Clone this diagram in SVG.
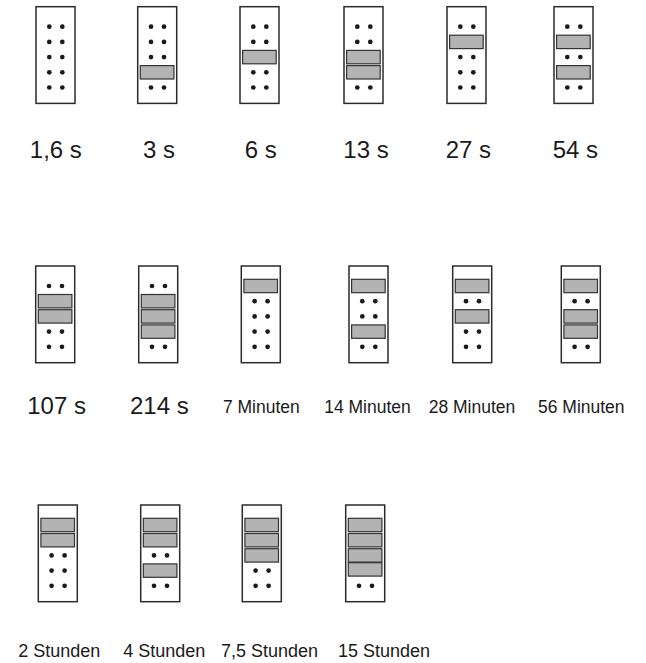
<svg xmlns="http://www.w3.org/2000/svg" width="646" height="663" viewBox="0 0 646 663">
<style>
.card{fill:#fff;stroke:#2b2b2b;stroke-width:1.5}
.bar{fill:#b3b3b3;stroke:#333;stroke-width:1.2}
.dot{fill:#1a1a1a}
.big{font-family:"Liberation Sans",Arial,sans-serif;font-size:24px;fill:#1a1a1a;text-anchor:middle}
.small{font-family:"Liberation Sans",Arial,sans-serif;font-size:17.5px;fill:#1a1a1a;text-anchor:middle}
.std{font-family:"Liberation Sans",Arial,sans-serif;font-size:18px;fill:#1a1a1a;text-anchor:middle}
</style>
<defs>
<g id="dp" class="dot"><circle cx="13.3" cy="0" r="2.35"/><circle cx="26.3" cy="0" r="2.35"/></g>
<rect id="bar" class="bar" x="2.6" y="-6.7" width="33.6" height="13.4"/>
<rect id="frame" class="card" x="0" y="0" width="39" height="96.7"/>
</defs>
<rect width="646" height="663" fill="#fff"/>
<g id="connectors"/>

<!-- Row 1 -->
<g id="card-1-6s" transform="translate(36,6.7)">
<use href="#frame"/><use href="#dp" y="20"/><use href="#dp" y="35.2"/><use href="#dp" y="50.4"/><use href="#dp" y="65.6"/><use href="#dp" y="80.8"/>
<text class="big" x="19.8" y="151">1,6 s</text>
</g>
<g id="card-3s" transform="translate(137.7,6.7)">
<use href="#frame"/><use href="#dp" y="20"/><use href="#dp" y="35.2"/><use href="#dp" y="50.4"/><use href="#bar" y="65.6"/><use href="#dp" y="80.8"/>
<text class="big" x="21.4" y="151">3 s</text>
</g>
<g id="card-6s" transform="translate(240,6.7)">
<use href="#frame"/><use href="#dp" y="20"/><use href="#dp" y="35.2"/><use href="#bar" y="50.4"/><use href="#dp" y="65.6"/><use href="#dp" y="80.8"/>
<text class="big" x="20.8" y="151">6 s</text>
</g>
<g id="card-13s" transform="translate(344,6.7)">
<use href="#frame"/><use href="#dp" y="20"/><use href="#dp" y="35.2"/><use href="#bar" y="50.4"/><use href="#bar" y="65.6"/><use href="#dp" y="80.8"/>
<text class="big" x="22" y="151">13 s</text>
</g>
<g id="card-27s" transform="translate(447,6.7)">
<use href="#frame"/><use href="#dp" y="20"/><use href="#bar" y="35.2"/><use href="#dp" y="50.4"/><use href="#dp" y="65.6"/><use href="#dp" y="80.8"/>
<text class="big" x="21.3" y="151">27 s</text>
</g>
<g id="card-54s" transform="translate(554,6.7)">
<use href="#frame"/><use href="#dp" y="20"/><use href="#bar" y="35.2"/><use href="#dp" y="50.4"/><use href="#bar" y="65.6"/><use href="#dp" y="80.8"/>
<text class="big" x="21.4" y="151">54 s</text>
</g>

<!-- Row 2 -->
<g id="card-107s" transform="translate(35.7,266)">
<use href="#frame"/><use href="#dp" y="20"/><use href="#bar" y="35.2"/><use href="#bar" y="50.4"/><use href="#dp" y="65.6"/><use href="#dp" y="80.8"/>
<text class="big" x="20.9" y="148">107 s</text>
</g>
<g id="card-214s" transform="translate(138.7,266)">
<use href="#frame"/><use href="#dp" y="20"/><use href="#bar" y="35.2"/><use href="#bar" y="50.4"/><use href="#bar" y="65.6"/><use href="#dp" y="80.8"/>
<text class="big" x="20.6" y="148">214 s</text>
</g>
<g id="card-7min" transform="translate(241.3,266)">
<use href="#frame"/><use href="#bar" y="20"/><use href="#dp" y="35.2"/><use href="#dp" y="50.4"/><use href="#dp" y="65.6"/><use href="#dp" y="80.8"/>
<text class="small" x="20" y="147">7 Minuten</text>
</g>
<g id="card-14min" transform="translate(349,266)">
<use href="#frame"/><use href="#bar" y="20"/><use href="#dp" y="35.2"/><use href="#dp" y="50.4"/><use href="#bar" y="65.6"/><use href="#dp" y="80.8"/>
<text class="small" x="18.5" y="147">14 Minuten</text>
</g>
<g id="card-28min" transform="translate(452.7,266)">
<use href="#frame"/><use href="#bar" y="20"/><use href="#dp" y="35.2"/><use href="#bar" y="50.4"/><use href="#dp" y="65.6"/><use href="#dp" y="80.8"/>
<text class="small" x="19.3" y="147">28 Minuten</text>
</g>
<g id="card-56min" transform="translate(561.3,266)">
<use href="#frame"/><use href="#bar" y="20"/><use href="#dp" y="35.2"/><use href="#bar" y="50.4"/><use href="#bar" y="65.6"/><use href="#dp" y="80.8"/>
<text class="small" x="20" y="147">56 Minuten</text>
</g>

<!-- Row 3 -->
<g id="card-2h" transform="translate(38.3,505)">
<use href="#frame"/><use href="#bar" y="20"/><use href="#bar" y="35.2"/><use href="#dp" y="50.4"/><use href="#dp" y="65.6"/><use href="#dp" y="80.8"/>
<text class="std" x="21" y="152">2 Stunden</text>
</g>
<g id="card-4h" transform="translate(140.7,505)">
<use href="#frame"/><use href="#bar" y="20"/><use href="#bar" y="35.2"/><use href="#dp" y="50.4"/><use href="#bar" y="65.6"/><use href="#dp" y="80.8"/>
<text class="std" x="23.6" y="152">4 Stunden</text>
</g>
<g id="card-7-5h" transform="translate(242.3,505)">
<use href="#frame"/><use href="#bar" y="20"/><use href="#bar" y="35.2"/><use href="#bar" y="50.4"/><use href="#dp" y="65.6"/><use href="#dp" y="80.8"/>
<text class="std" x="27.2" y="152">7,5 Stunden</text>
</g>
<g id="card-15h" transform="translate(345.7,505)">
<use href="#frame"/><use href="#bar" y="20"/><use href="#bar" y="35.2"/><use href="#bar" y="50.4"/><use href="#bar" y="64.4"/><use href="#dp" y="80.8"/>
<text class="std" x="38.3" y="152">15 Stunden</text>
</g>
</svg>
